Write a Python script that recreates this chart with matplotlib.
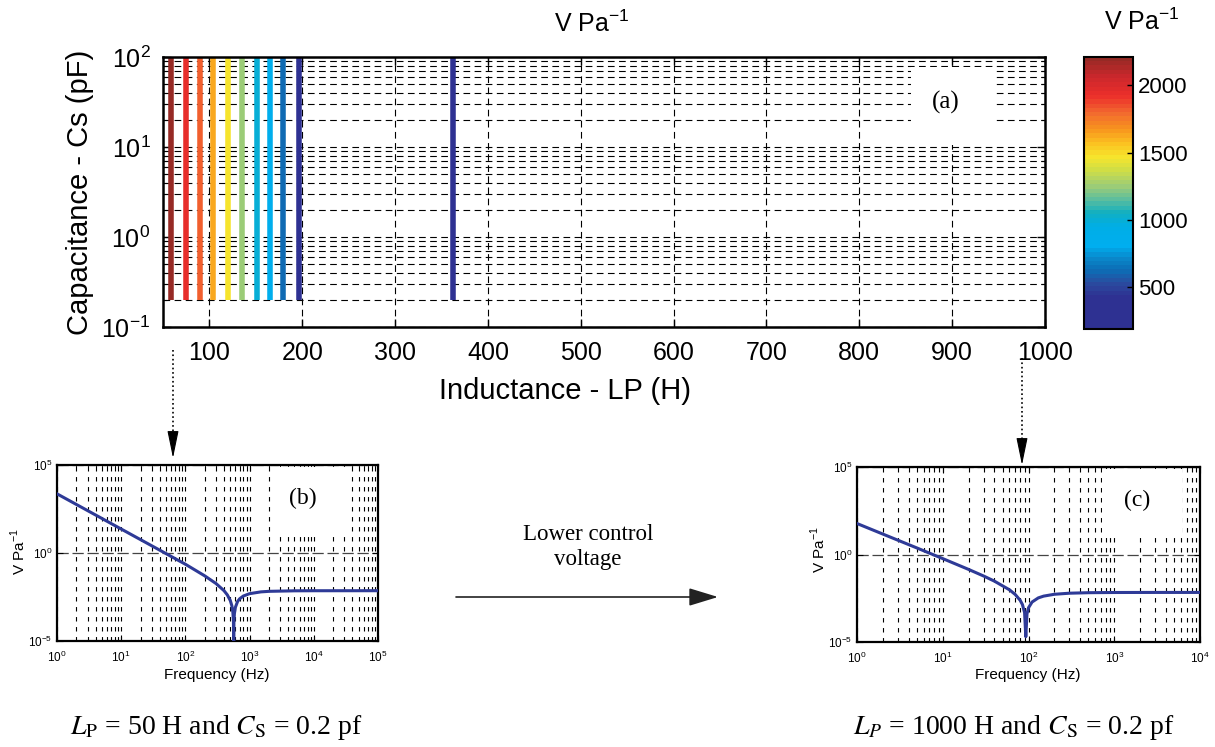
import numpy as np
import matplotlib
matplotlib.use("Agg")
import matplotlib.pyplot as plt
from matplotlib.colors import LinearSegmentedColormap, Normalize
from matplotlib.cm import ScalarMappable
from matplotlib.patches import Rectangle
from matplotlib.ticker import LogLocator, NullLocator

plt.rcParams['font.family'] = ['Liberation Sans', 'DejaVu Sans']

W, H = 1215, 747

# ---- datos panel (a): inductancia vs capacitancia, color = sensibilidad
inductancia = [59, 75, 90, 104, 120, 135, 151, 165, 179, 196, 362]
sensibilidad = [2180, 1950, 1800, 1620, 1470, 1250, 1000, 850, 620, 400, 210]
cs_min, cs_max = 0.2, 100

# ---- panel (b): LP = 50 H, Cs = 0.2 pF
frec_b = [1, 2, 5, 10, 20, 50, 100, 200, 300, 400, 450, 500, 530, 550, 560,
          565, 570, 580, 600, 650, 700, 800, 1000, 1500, 2000, 5000, 1e4, 1e5]
resp_b = [2300, 575, 92, 23, 5.75, 0.92, 0.23, 0.0503, 0.0184, 0.00718,
          0.00416, 0.0020, 0.00099, 0.0004, 0.000134, 1e-5, 0.000121,
          0.000363, 0.00081, 0.00176, 0.0025, 0.0036, 0.0049, 0.00618,
          0.00663, 0.0071, 0.00718, 0.0072]

# ---- panel (c): LP = 1000 H, Cs = 0.2 pF
frec_c = [1, 2, 5, 10, 20, 30, 40, 60, 70, 80, 85, 90, 93, 96, 100, 110,
          130, 150, 200, 300, 500, 1000, 3000, 1e4]
resp_c = [59, 14.75, 2.36, 0.583, 0.1407, 0.0588, 0.0301, 0.0096, 0.0052,
          0.0024, 0.00137, 0.00048, 2e-5, 0.0004, 0.0009, 0.00192, 0.00331,
          0.00418, 0.00533, 0.00614, 0.00656, 0.00674, 0.0068, 0.0068]

# colormap tipo "jet" impreso
stops = [(190, '#2e3192'), (420, '#2e3192'), (520, '#2a4c9f'), (620, '#0b6eb6'),
         (700, '#0a85c8'), (800, '#00aeef'), (950, '#00aee6'), (1050, '#12afc0'),
         (1150, '#5dbe9e'), (1250, '#9ccc76'), (1380, '#d3df43'), (1470, '#f6e52c'),
         (1570, '#fbc321'), (1680, '#f7941d'), (1800, '#f26a2f'), (1930, '#ec2f2b'),
         (2080, '#c9272c'), (2210, '#962a25')]
vmin, vmax = 190, 2210
mapa = LinearSegmentedColormap.from_list(
    'jetp', [((v - vmin) / (vmax - vmin), c) for v, c in stops], N=64)
norma = Normalize(vmin, vmax)


def caja(x0, y0, x1, y1):
    # pixeles -> fraccion de figura
    return [x0 / W, 1 - y1 / H, (x1 - x0) / W, (y1 - y0) / H]


def ftext(x, y, s, **kw):
    fig.text(x / W, 1 - y / H, s, ha='center', va='center', **kw)


fig = plt.figure(figsize=(W / 100, H / 100), dpi=100)

# capa para flechas
capa = fig.add_axes([0, 0, 1, 1], zorder=0)
capa.set_xlim(0, W)
capa.set_ylim(H, 0)
capa.axis('off')

# ================= panel (a)
ax = fig.add_axes(caja(163, 57, 1045, 327), zorder=2)
ax.set_yscale('log')
ax.set_xlim(50, 1000)
ax.set_ylim(0.1, 100)
colores = [mapa(norma(v)) for v in sensibilidad]
ax.vlines(inductancia, cs_min, cs_max, colors=colores, lw=4.0, zorder=2)
ax.set_xticks(range(100, 1001, 100))
ax.set_yticks([0.1, 1, 10, 100])
ax.yaxis.set_minor_locator(LogLocator(base=10, subs=np.arange(2, 10), numticks=50))
ax.set_axisbelow(True)
ax.grid(True, which='major', axis='x', color='k', lw=0.8, ls=(0, (6, 4)))
ax.grid(True, which='both', axis='y', color='k', lw=0.8, ls=(0, (6, 4)))
ax.tick_params(which='both', direction='in', top=True, right=True, labelsize=18)
ax.tick_params(which='major', length=6, width=1)
ax.tick_params(which='minor', length=3, width=0.8)
ax.tick_params(axis='x', pad=10)
ax.tick_params(axis='y', pad=9)
for s in ax.spines.values():
    s.set_linewidth(1.8)
ax.add_patch(Rectangle((0.848, 0.674), 0.096, 0.289, transform=ax.transAxes,
                       facecolor='white', edgecolor='none', zorder=1))
ax.text(0.887, 0.83, '(a)', transform=ax.transAxes, ha='center', va='center',
        family='Liberation Serif', fontsize=18, zorder=3)

ftext(80, 192, 'Capacitance - Cs (pF)', fontsize=21, rotation=90)
ftext(565, 391, 'Inductance - LP (H)', fontsize=21)
ftext(592, 24, r'V Pa$^{\mathdefault{-1}}$', fontsize=18)

# colorbar
cax = fig.add_axes(caja(1084, 57, 1133, 329), zorder=2)
sm = ScalarMappable(norm=norma, cmap=mapa)
cb = fig.colorbar(sm, cax=cax, ticks=[500, 1000, 1500, 2000])
cb.ax.tick_params(labelsize=16, direction='in', length=4, width=1)
cb.outline.set_linewidth(1.5)
ftext(1142, 22, r'V Pa$^{\mathdefault{-1}}$', fontsize=18)


# ================= paneles (b) y (c)
def panel(rect, frec, resp, xmax, etiqueta, caja_et, pos_et):
    a = fig.add_axes(caja(*rect), zorder=2)
    a.set_xscale('log')
    a.set_yscale('log')
    a.set_xlim(1, xmax)
    a.set_ylim(1e-5, 1e5)
    a.plot(frec, resp, color='#2e3a97', lw=2.2, zorder=3)
    a.set_yticks([1e-5, 1, 1e5])
    a.yaxis.set_minor_locator(NullLocator())
    a.xaxis.set_major_locator(LogLocator(base=10, numticks=20))
    a.xaxis.set_minor_locator(LogLocator(base=10, subs=np.arange(2, 10), numticks=100))
    a.set_axisbelow(True)
    a.grid(True, which='both', axis='x', color='k', lw=0.8, ls=(0, (4, 5)))
    a.grid(True, which='major', axis='y', color='#444444', lw=0.9, ls=(0, (9, 3)))
    a.tick_params(which='both', direction='in', top=True, right=True, labelsize=8.5)
    a.tick_params(which='major', length=4)
    a.tick_params(which='minor', length=2)
    a.tick_params(axis='x', pad=6)
    for s in a.spines.values():
        s.set_linewidth(1.6)
    a.add_patch(Rectangle((caja_et[0], caja_et[1]), caja_et[2] - caja_et[0],
                          caja_et[3] - caja_et[1], transform=a.transAxes,
                          facecolor='white', edgecolor='none', zorder=1))
    a.text(pos_et[0], pos_et[1], etiqueta, transform=a.transAxes, ha='center',
           va='center', family='Liberation Serif', fontsize=17, zorder=4)
    return a


ax_b = panel((57, 465, 378, 641), frec_b, resp_b, 1e5, '(b)',
             (0.670, 0.602, 0.913, 0.99), (0.766, 0.812))
ax_c = panel((857, 467, 1200, 642), frec_c, resp_c, 1e4, '(c)',
             (0.714, 0.600, 0.948, 0.99), (0.816, 0.811))

ftext(217, 675, 'Frequency (Hz)', fontsize=11)
ftext(1028, 675, 'Frequency (Hz)', fontsize=11)
ftext(18, 552, r'V Pa$^{\mathdefault{-1}}$', fontsize=11, rotation=90)
ftext(818, 550, r'V Pa$^{\mathdefault{-1}}$', fontsize=11, rotation=90)

# leyendas inferiores
ftext(216, 728, r'$L_{\mathrm{P}}$ = 50 H and $C_{\mathrm{S}}$ = 0.2 pf',
      family='Liberation Serif', fontsize=20, math_fontfamily='stix')
ftext(1014, 728, r'$L_{P}$ = 1000 H and $C_{\mathrm{S}}$ = 0.2 pf',
      family='Liberation Serif', fontsize=20, math_fontfamily='stix')
ftext(588, 547, 'Lower control\nvoltage', family='Liberation Serif',
      fontsize=16.5, linespacing=1.2)

# flechas
capa.plot([173, 173], [350, 440], color='k', lw=1.2, ls=':')
capa.annotate('', xy=(173, 458), xytext=(173, 436),
              arrowprops=dict(arrowstyle='-|>,head_length=1.7,head_width=0.35',
                              mutation_scale=10, color='k', lw=0.8,
                              shrinkA=0, shrinkB=0))
capa.plot([1022, 1022], [358, 447], color='k', lw=1.2, ls=':')
capa.annotate('', xy=(1022, 465), xytext=(1022, 443),
              arrowprops=dict(arrowstyle='-|>,head_length=1.7,head_width=0.35',
                              mutation_scale=10, color='k', lw=0.8,
                              shrinkA=0, shrinkB=0))
capa.annotate('', xy=(718, 597), xytext=(456, 597),
              arrowprops=dict(arrowstyle='-|>,head_length=1.8,head_width=0.55',
                              mutation_scale=10, color='#222222', lw=1.2,
                              shrinkA=0, shrinkB=0))

fig.savefig('out.png', dpi=100)
